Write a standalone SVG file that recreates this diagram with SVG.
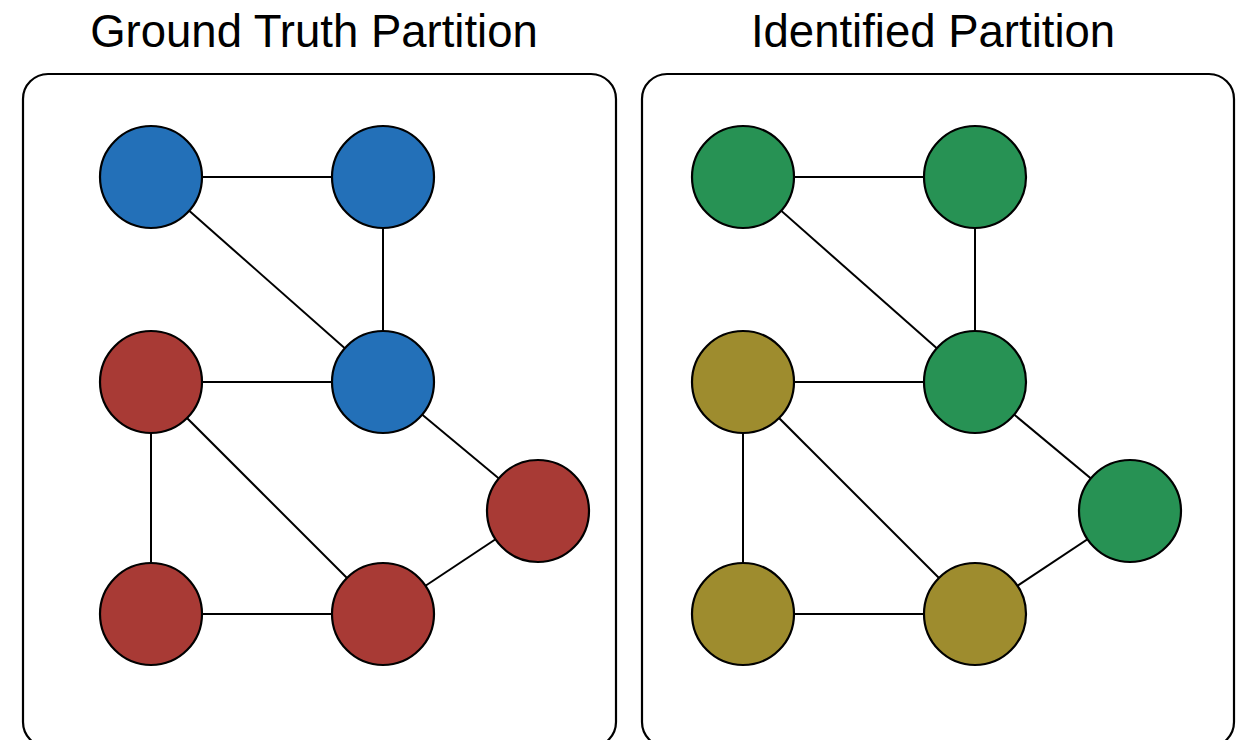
<svg xmlns="http://www.w3.org/2000/svg" width="1247" height="740" viewBox="0 0 1247 740">
<style>
.panel{fill:#fff;stroke:#000;stroke-width:2.2}
.edge{stroke:#000;stroke-width:2}
.node{stroke:#000;stroke-width:2.2}
.blue{fill:#2370B8}.red{fill:#A83A35}.green{fill:#279254}.olive{fill:#9E8C2E}
.title{font-family:"Liberation Sans",Arial,sans-serif;font-size:45.5px;fill:#000;text-anchor:middle}
</style>
<rect width="1247" height="740" fill="#fff"/>
<g id="panel-left"><rect class="panel" x="23" y="74" width="593" height="673" rx="25"/></g>
<g id="panel-right"><rect class="panel" x="642" y="74" width="592" height="673" rx="25"/></g>
<text class="title" x="314" y="47">Ground Truth Partition</text>
<text class="title" x="933" y="47">Identified Partition</text>
<g id="connectors">
<line class="edge" x1="151" y1="177" x2="383" y2="177"/>
<line class="edge" x1="151" y1="177" x2="383" y2="382"/>
<line class="edge" x1="383" y1="177" x2="383" y2="382"/>
<line class="edge" x1="151" y1="382" x2="383" y2="382"/>
<line class="edge" x1="151" y1="382" x2="151" y2="614"/>
<line class="edge" x1="151" y1="382" x2="383" y2="614"/>
<line class="edge" x1="151" y1="614" x2="383" y2="614"/>
<line class="edge" x1="383" y1="382" x2="538" y2="511"/>
<line class="edge" x1="383" y1="614" x2="538" y2="511"/>
<line class="edge" x1="743" y1="177" x2="975" y2="177"/>
<line class="edge" x1="743" y1="177" x2="975" y2="382"/>
<line class="edge" x1="975" y1="177" x2="975" y2="382"/>
<line class="edge" x1="743" y1="382" x2="975" y2="382"/>
<line class="edge" x1="743" y1="382" x2="743" y2="614"/>
<line class="edge" x1="743" y1="382" x2="975" y2="614"/>
<line class="edge" x1="743" y1="614" x2="975" y2="614"/>
<line class="edge" x1="975" y1="382" x2="1130" y2="511"/>
<line class="edge" x1="975" y1="614" x2="1130" y2="511"/>
</g>
<g id="gt-a"><circle class="node blue" cx="151" cy="177" r="51"/></g>
<g id="gt-b"><circle class="node blue" cx="383" cy="177" r="51"/></g>
<g id="gt-c"><circle class="node red" cx="151" cy="382" r="51"/></g>
<g id="gt-d"><circle class="node blue" cx="383" cy="382" r="51"/></g>
<g id="gt-e"><circle class="node red" cx="538" cy="511" r="51"/></g>
<g id="gt-f"><circle class="node red" cx="151" cy="614" r="51"/></g>
<g id="gt-g"><circle class="node red" cx="383" cy="614" r="51"/></g>
<g id="id-a"><circle class="node green" cx="743" cy="177" r="51"/></g>
<g id="id-b"><circle class="node green" cx="975" cy="177" r="51"/></g>
<g id="id-c"><circle class="node olive" cx="743" cy="382" r="51"/></g>
<g id="id-d"><circle class="node green" cx="975" cy="382" r="51"/></g>
<g id="id-e"><circle class="node green" cx="1130" cy="511" r="51"/></g>
<g id="id-f"><circle class="node olive" cx="743" cy="614" r="51"/></g>
<g id="id-g"><circle class="node olive" cx="975" cy="614" r="51"/></g>
</svg>
